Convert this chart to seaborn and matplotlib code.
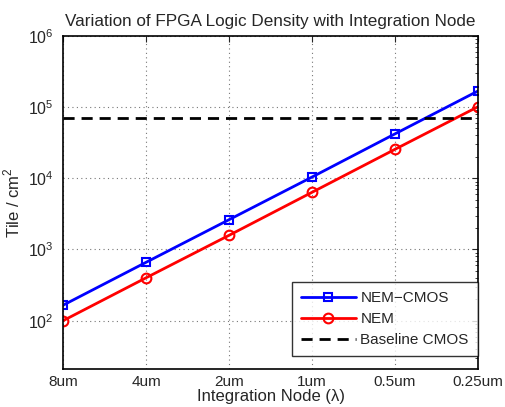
import numpy as np
import pandas as pd
import seaborn as sns
import matplotlib.pyplot as plt
from matplotlib.ticker import LogLocator, NullFormatter

nodes = ['8um', '4um', '2um', '1um', '0.5um', '0.25um']
nem_cmos = [165, 660, 2620, 10400, 42000, 168000]
nem = [100, 400, 1580, 6350, 25500, 101000]
baseline_cmos = 70000

sns.set_style("white")
plt.rcParams['font.family'] = ['Liberation Sans', 'DejaVu Sans']
plt.rcParams['mathtext.fontset'] = 'custom'
plt.rcParams['mathtext.rm'] = 'Liberation Sans'

df = pd.DataFrame({'pos': np.arange(len(nodes)), 'node': nodes,
                   'NEM-CMOS': nem_cmos, 'NEM': nem})

fig = plt.figure(figsize=(5.05, 4.07), dpi=100)
ax = fig.add_axes([0.1248, 0.0934, 0.8217, 0.8186])

sns.lineplot(data=df, x='pos', y='NEM-CMOS', ax=ax, color='#0000ff', lw=2,
             marker='s', ms=6, mfc='none', mec='#0000ff', mew=1.5, label='NEM\u2212CMOS')
sns.lineplot(data=df, x='pos', y='NEM', ax=ax, color='#ff0000', lw=2,
             marker='o', ms=7, mfc='none', mec='#ff0000', mew=1.5, label='NEM')
ax.axhline(baseline_cmos, color='black', lw=2, ls=(0, (4, 2.5)), label='Baseline CMOS')

ax.set_yscale('log')
ax.set_ylim(21, 1e6)
ax.set_xlim(0, len(nodes) - 1)
ax.set_xticks(df['pos'])
ax.set_xticklabels(nodes)
ax.yaxis.set_major_locator(LogLocator(base=10, numticks=10))
ax.yaxis.set_minor_locator(LogLocator(base=10, subs=np.arange(2, 10), numticks=50))
ax.yaxis.set_minor_formatter(NullFormatter())

ax.grid(True, which='major', color='#777777', ls=(0, (1, 3)), lw=0.8)
ax.tick_params(which='both', direction='in', top=True, right=True, labelsize=11.5)
ax.tick_params(which='major', length=4)
ax.tick_params(which='minor', length=2)
ax.tick_params(axis='x', pad=4, labelsize=11)
ax.tick_params(axis='y', pad=7)
for s in ax.spines.values():
    s.set_color('black')
    s.set_linewidth(1.2)

ax.set_title('Variation of FPGA Logic Density with Integration Node', fontsize=12.3, pad=7)
ax.set_xlabel('Integration Node (\u03bb)', fontsize=12, labelpad=0)
ax.set_ylabel('Tile / cm$^2$', fontsize=12, labelpad=4)

leg = ax.legend(loc='lower right', bbox_to_anchor=(1.0, 0.038), borderaxespad=0,
                fontsize=11, frameon=True, fancybox=False, handlelength=3.6,
                borderpad=0.6, labelspacing=0.45, handletextpad=0.3)
leg.get_frame().set_edgecolor('black')
leg.get_frame().set_linewidth(1.0)

fig.savefig('out.png', dpi=100)
